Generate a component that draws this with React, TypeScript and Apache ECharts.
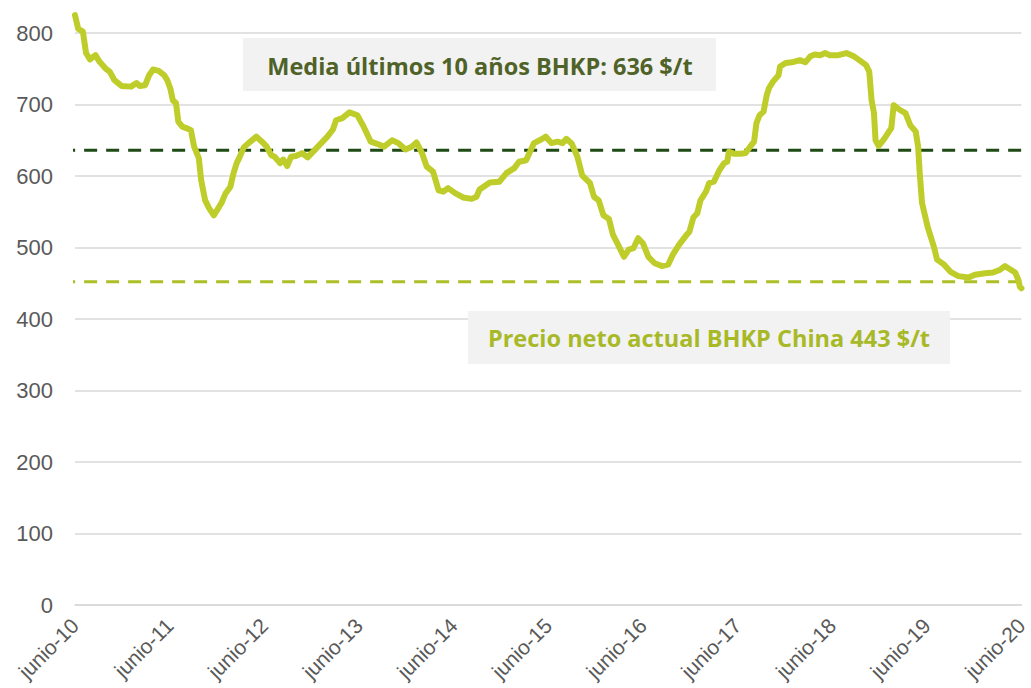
import React, { useEffect, useRef } from "react";
import * as echarts from "echarts";

// Months since junio-2010 (0 = junio-10, 120 = junio-20)
const months: number[] = [
  0, 0.4, 1.0, 1.4, 1.9, 2.6, 3.1, 3.9, 4.4, 5.0, 5.9, 7.1, 7.8, 8.2, 8.9, 9.4, 9.9, 10.6, 11.3, 11.7,
  12.1, 12.4, 12.8, 13.1, 13.6, 14.1, 14.7, 15.1, 15.7, 16.0, 16.5, 17.0, 17.6, 18.0, 18.6, 19.1, 19.7,
  20.1, 20.5, 20.9, 21.4, 22.0, 23.0, 23.7, 24.3, 24.9, 25.3, 26.0, 26.4, 26.9, 27.4, 28.0, 28.8, 29.5,
  30.2, 30.8, 31.4, 32.0, 32.7, 33.1, 33.9, 34.8, 35.8, 36.6, 37.5, 38.3, 39.2, 40.2, 41.0, 41.9, 42.7,
  43.3, 44.0, 44.6, 45.4, 46.1, 46.7, 47.3, 48.2, 49.2, 50.3, 50.9, 51.3, 52.6, 53.8, 54.7, 55.7, 56.3,
  57.2, 58.2, 59.1, 59.7, 60.4, 61.2, 61.8, 62.3, 63.0, 63.7, 64.3, 65.3, 65.8, 66.4, 67.0, 67.7, 68.2,
  68.8, 69.6, 70.2, 70.8, 71.4, 72.0, 72.7, 73.5, 74.4, 75.2, 75.8, 76.6, 77.5, 77.9, 78.4, 78.9, 79.3,
  80.0, 80.4, 81.0, 81.7, 82.3, 82.7, 82.9, 83.6, 84.4, 85.0, 85.6, 86.1, 86.4, 86.8, 87.3, 87.7, 88.0,
  88.5, 89.2, 89.4, 90.1, 90.9, 91.9, 92.6, 93.2, 93.8, 94.5, 95.1, 95.7, 96.8, 97.8, 98.8, 99.7, 100.3,
  100.7, 101.0, 101.3, 101.5, 101.9, 102.6, 103.2, 103.5, 103.8, 104.5, 105.3, 105.9, 106.6, 106.9,
  107.1, 107.4, 108.1, 108.9, 109.3, 110.2, 111.0, 112.0, 113.3, 114.1, 115.4, 116.4, 117.3, 117.9,
  118.5, 119.2, 119.6, 119.8, 120,
];

// BHKP China price ($/t)
const prices: number[] = [
  825, 806, 802, 772, 763, 769, 760, 750, 746, 734, 726, 725, 730, 726, 727, 741, 749, 747, 741, 734,
  722, 706, 702, 676, 669, 667, 664, 641, 625, 594, 566, 555, 545, 552, 563, 576, 585,
  604, 618, 627, 640, 646, 655, 648, 641, 629, 627, 618, 623, 614, 627, 628, 632, 626,
  634, 641, 648, 655, 665, 678, 681, 689, 685, 669, 648, 645, 641, 650, 646, 637, 641,
  647, 632, 613, 606, 580, 578, 583, 576, 570, 568, 571, 581, 591, 592, 604, 611, 620,
  622, 646, 651, 655, 646, 648, 646, 652, 645, 627, 601, 590, 571, 566, 545, 540, 518,
  505, 487, 497, 499, 513, 506, 487, 478, 474, 476, 490, 504, 517, 522, 542, 548, 566,
  578, 590, 592, 608, 618, 620, 634, 631, 631, 632, 641, 648, 674, 685, 690, 713, 723,
  732, 741, 753, 758, 759, 762, 759, 767, 770, 769, 772, 769, 769, 772, 767, 760, 755,
  746, 706, 688, 650, 642, 652, 662, 667, 699, 693, 688, 671, 662, 641,
  604, 562, 529, 501, 483, 476, 466, 460, 458, 462, 464, 465, 469, 474,
  470, 465, 455, 445, 443,
];

const tickYears: string[] = ["10", "11", "12", "13", "14", "15", "16", "17", "18", "19", "20"];

const meanValue = 636; // Media últimos 10 años
const currentLevel = 452; // dashed reference drawn under current price label
const lineStartMonth = -1.63; // dashed reference lines start slightly left of the plot

const meanLabel = "Media últimos 10 años BHKP: 636 $/t";
const currentLabel = "Precio neto actual BHKP China 443 $/t";

export default function App() {
  const ref = useRef<HTMLDivElement>(null);

  useEffect(() => {
    if (!ref.current) return;
    const chart = echarts.init(ref.current, undefined, { renderer: "svg" });
    const lineData = months.map((m, i) => [m, prices[i]]);
    chart.setOption({
      animation: false,
      backgroundColor: "#ffffff",
      grid: { left: 75, right: 1, top: 33, bottom: 83, containLabel: false },
      xAxis: {
        type: "value",
        min: 0,
        max: 120,
        interval: 12,
        axisLine: { show: true, lineStyle: { color: "#d9d9d9", width: 1.5 } },
        axisTick: { show: false },
        splitLine: { show: false },
        axisLabel: {
          rotate: 45,
          margin: 17,
          color: "#595959",
          fontSize: 21,
          fontFamily: "Liberation Sans, Arial, sans-serif",
          formatter: (v: number) => "junio-" + tickYears[Math.round(v / 12)],
        },
      },
      yAxis: {
        type: "value",
        min: 0,
        max: 800,
        interval: 100,
        axisLine: { show: false },
        axisTick: { show: false },
        splitLine: { show: true, lineStyle: { color: "#d9d9d9", width: 1.5 } },
        axisLabel: {
          margin: 22,
          color: "#595959",
          fontSize: 22,
          fontFamily: "Liberation Sans, Arial, sans-serif",
        },
      },
      series: [
        {
          type: "line",
          data: [
            [lineStartMonth, meanValue],
            [120, meanValue],
          ],
          symbol: "none",
          clip: false,
          silent: true,
          lineStyle: { color: "#1e4a16", width: 3, type: [13, 9] },
          z: 2,
        },
        {
          type: "line",
          data: [
            [lineStartMonth, currentLevel],
            [120, currentLevel],
          ],
          symbol: "none",
          clip: false,
          silent: true,
          lineStyle: { color: "#adbf26", width: 3, type: [13, 9] },
          z: 2,
        },
        {
          type: "line",
          data: lineData,
          symbol: "none",
          clip: false,
          lineStyle: { color: "#bfcd2a", width: 6, join: "round", cap: "round" },
          z: 3,
        },
      ],
      graphic: [
        {
          type: "rect",
          shape: { x: 243, y: 38, width: 473, height: 53 },
          style: { fill: "#f2f2f2" },
          z: 1,
        },
        {
          type: "text",
          x: 480,
          y: 66,
          style: {
            text: meanLabel,
            fill: "#4f6228",
            fontSize: 23.5,
            fontWeight: "bold",
            fontFamily: "Open Sans, Noto Sans, sans-serif",
            align: "center",
            verticalAlign: "middle",
          },
          z: 5,
        },
        {
          type: "rect",
          shape: { x: 468, y: 311, width: 482, height: 53 },
          style: { fill: "#f2f2f2" },
          z: 1,
        },
        {
          type: "text",
          x: 709,
          y: 338,
          style: {
            text: currentLabel,
            fill: "#a8b928",
            fontSize: 23.5,
            fontWeight: "bold",
            fontFamily: "Open Sans, Noto Sans, sans-serif",
            align: "center",
            verticalAlign: "middle",
          },
          z: 5,
        },
      ],
    });
    return () => chart.dispose();
  }, []);

  return (
    <div
      ref={ref}
      style={{ position: "absolute", left: 0, top: 0, width: 1031, height: 688 }}
    />
  );
}
